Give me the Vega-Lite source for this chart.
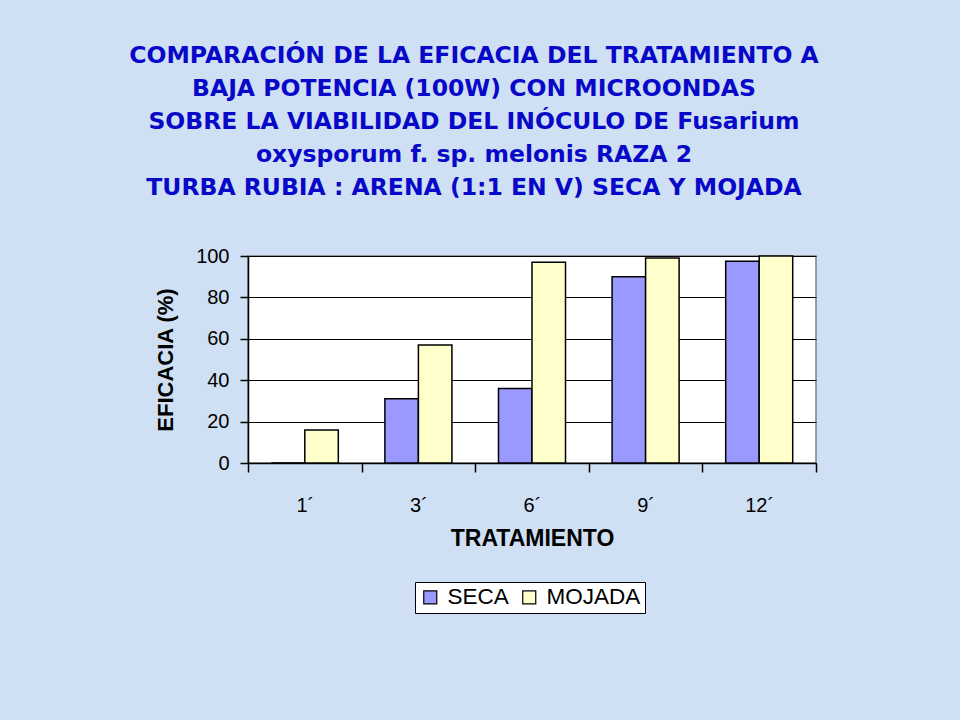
{
  "$schema": "https://vega.github.io/schema/vega-lite/v6.json",
  "width": 568,
  "height": 207,
  "autosize": {"type": "none"},
  "padding": {"left": 248, "top": 256, "right": 144, "bottom": 257},
  "background": "#cfe0f4",
  "title": {
    "text": [
      "COMPARACIÓN DE LA EFICACIA DEL TRATAMIENTO A",
      "BAJA POTENCIA (100W) CON MICROONDAS",
      "SOBRE LA VIABILIDAD DEL INÓCULO DE Fusarium",
      "oxysporum f. sp. melonis RAZA 2",
      "TURBA RUBIA : ARENA (1:1 EN V) SECA Y MOJADA"
    ],
    "font": "DejaVu Sans",
    "fontSize": 23.5,
    "fontWeight": "bold",
    "color": "#0808c8",
    "lineHeight": 33,
    "anchor": "middle",
    "frame": "group",
    "dx": -58,
    "offset": 47
  },
  "data": {
    "values": [
      {"tratamiento": "1´", "serie": "SECA", "eficacia": 0},
      {"tratamiento": "1´", "serie": "MOJADA", "eficacia": 16},
      {"tratamiento": "3´", "serie": "SECA", "eficacia": 31},
      {"tratamiento": "3´", "serie": "MOJADA", "eficacia": 57},
      {"tratamiento": "6´", "serie": "SECA", "eficacia": 36},
      {"tratamiento": "6´", "serie": "MOJADA", "eficacia": 97},
      {"tratamiento": "9´", "serie": "SECA", "eficacia": 90},
      {"tratamiento": "9´", "serie": "MOJADA", "eficacia": 99},
      {"tratamiento": "12´", "serie": "SECA", "eficacia": 97.5},
      {"tratamiento": "12´", "serie": "MOJADA", "eficacia": 100}
    ]
  },
  "mark": {"type": "bar", "stroke": "black", "strokeWidth": 1.5},
  "encoding": {
    "x": {
      "field": "tratamiento",
      "type": "nominal",
      "sort": ["1´", "3´", "6´", "9´", "12´"],
      "scale": {"paddingInner": 0, "paddingOuter": 0},
      "axis": {
        "title": "TRATAMIENTO",
        "titleFont": "Liberation Sans",
        "titleFontSize": 23,
        "titleFontWeight": "bold",
        "titleColor": "black",
        "titlePadding": 12,
        "labelFont": "Liberation Sans",
        "labelFontSize": 20,
        "labelColor": "black",
        "labelAngle": 0,
        "labelPadding": 23,
        "ticks": true,
        "tickBand": "extent",
        "tickSize": 9,
        "tickWidth": 1.5,
        "tickColor": "black",
        "domainColor": "black",
        "domainWidth": 1.5,
        "grid": false
      }
    },
    "xOffset": {
      "field": "serie",
      "type": "nominal",
      "sort": ["SECA", "MOJADA"],
      "scale": {"paddingInner": 0, "paddingOuter": 0.695}
    },
    "y": {
      "field": "eficacia",
      "type": "quantitative",
      "scale": {"domain": [0, 100]},
      "axis": {
        "title": "EFICACIA (%)",
        "titleFont": "Liberation Sans",
        "titleFontSize": 22,
        "titleFontWeight": "bold",
        "titleColor": "black",
        "titlePadding": 18,
        "values": [0, 20, 40, 60, 80, 100],
        "labelFont": "Liberation Sans",
        "labelFontSize": 20,
        "labelColor": "black",
        "labelPadding": 11,
        "ticks": true,
        "tickSize": 8,
        "tickWidth": 1.5,
        "tickColor": "black",
        "domainColor": "black",
        "domainWidth": 1.5,
        "gridColor": "black",
        "gridOpacity": 1
      }
    },
    "color": {
      "field": "serie",
      "type": "nominal",
      "sort": ["SECA", "MOJADA"],
      "scale": {"domain": ["SECA", "MOJADA"], "range": ["#9999ff", "#ffffcc"]},
      "legend": {
        "title": null,
        "orient": "none",
        "direction": "horizontal",
        "legendX": 167,
        "legendY": 326,
        "fillColor": "white",
        "strokeColor": "black",
        "padding": 4,
        "symbolType": "square",
        "symbolSize": 169,
        "symbolStrokeColor": "black",
        "symbolStrokeWidth": 1.2,
        "symbolOpacity": 1,
        "labelFont": "Liberation Sans",
        "labelFontSize": 22.5,
        "labelColor": "black",
        "labelOffset": 6,
        "columnPadding": 9
      }
    }
  },
  "config": {
    "view": {"fill": "white", "stroke": "#808080", "strokeWidth": 1.5}
  }
}
